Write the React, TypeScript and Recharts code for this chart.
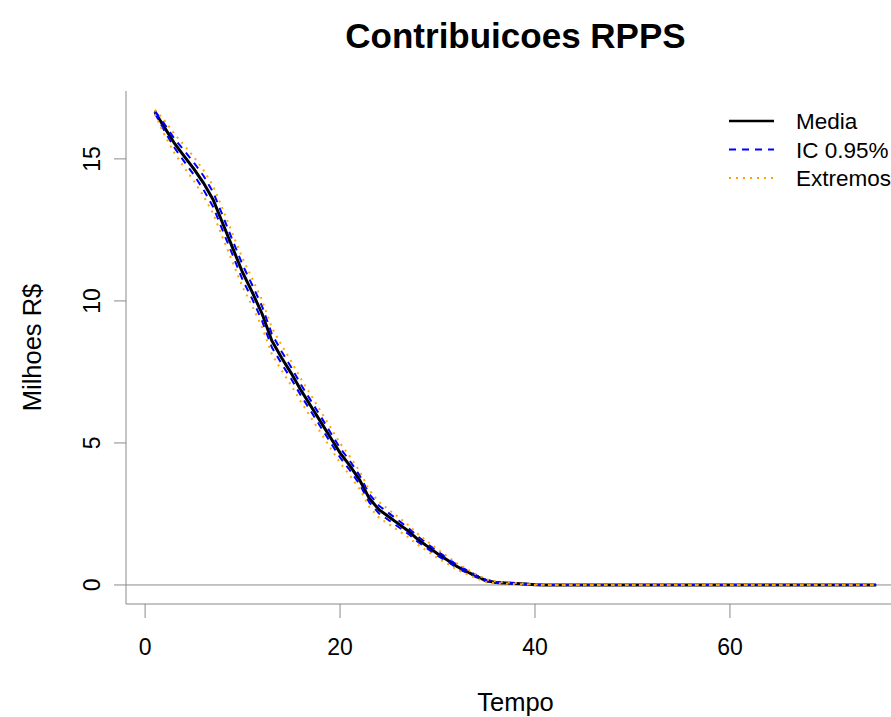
import React from 'react';
import { LineChart, Line, XAxis, YAxis, ReferenceLine } from 'recharts';

// eixo x: anos de projecao
const TEMPO = Array.from({ length: 75 }, (_, i) => i + 1);

const MEDIA = [
  16.65, 16.10, 15.55, 15.10, 14.65, 14.15, 13.55, 12.70, 11.85, 11.00,
  10.30, 9.55, 8.60, 8.00, 7.45, 6.85, 6.30, 5.75, 5.20, 4.65,
  4.20, 3.70, 3.05, 2.65, 2.40, 2.15, 1.90, 1.60, 1.35, 1.10,
  0.88, 0.65, 0.47, 0.30, 0.15, 0.09, 0.07, 0.05, 0.03, 0.01,
  0, 0, 0, 0, 0, 0, 0, 0, 0, 0, 0, 0, 0, 0, 0, 0, 0, 0, 0, 0,
  0, 0, 0, 0, 0, 0, 0, 0, 0, 0, 0, 0, 0, 0, 0,
];

const IC_SUP = [
  16.69, 16.22, 15.71, 15.30, 14.87, 14.40, 13.81, 12.97, 12.11, 11.27,
  10.55, 9.81, 8.84, 8.22, 7.66, 7.05, 6.49, 5.94, 5.38, 4.82,
  4.37, 3.86, 3.20, 2.79, 2.53, 2.27, 2.01, 1.70, 1.44, 1.18,
  0.95, 0.71, 0.52, 0.34, 0.18, 0.11, 0.08, 0.06, 0.04, 0.02,
  0, 0, 0, 0, 0, 0, 0, 0, 0, 0, 0, 0, 0, 0, 0, 0, 0, 0, 0, 0,
  0, 0, 0, 0, 0, 0, 0, 0, 0, 0, 0, 0, 0, 0, 0,
];

const IC_INF = [
  16.61, 15.98, 15.40, 14.91, 14.44, 13.91, 13.30, 12.44, 11.60, 10.74,
  10.06, 9.30, 8.37, 7.79, 7.25, 6.66, 6.12, 5.57, 5.03, 4.49,
  4.04, 3.55, 2.91, 2.52, 2.28, 2.04, 1.80, 1.51, 1.27, 1.03,
  0.82, 0.60, 0.43, 0.27, 0.13, 0.07, 0.06, 0.04, 0.02, 0.00,
  0, 0, 0, 0, 0, 0, 0, 0, 0, 0, 0, 0, 0, 0, 0, 0, 0, 0, 0, 0,
  0, 0, 0, 0, 0, 0, 0, 0, 0, 0, 0, 0, 0, 0, 0,
];

const EXT_SUP = [
  16.73, 16.35, 15.88, 15.48, 15.07, 14.60, 14.03, 13.20, 12.34, 11.50,
  10.78, 10.02, 9.06, 8.44, 7.87, 7.25, 6.69, 6.12, 5.56, 4.99,
  4.53, 4.01, 3.34, 2.92, 2.65, 2.38, 2.11, 1.79, 1.52, 1.25,
  1.01, 0.76, 0.56, 0.37, 0.20, 0.12, 0.09, 0.07, 0.04, 0.02,
  0, 0, 0, 0, 0, 0, 0, 0, 0, 0, 0, 0, 0, 0, 0, 0, 0, 0, 0, 0,
  0, 0, 0, 0, 0, 0, 0, 0, 0, 0, 0, 0, 0, 0, 0,
];

const EXT_INF = [
  16.57, 15.84, 15.21, 14.70, 14.22, 13.69, 13.06, 12.19, 11.35, 10.49,
  9.81, 9.07, 8.13, 7.55, 7.02, 6.44, 5.90, 5.37, 4.83, 4.30,
  3.86, 3.38, 2.75, 2.37, 2.14, 1.91, 1.68, 1.41, 1.18, 0.95,
  0.75, 0.54, 0.38, 0.23, 0.10, 0.06, 0.05, 0.03, 0.02, 0.00,
  0, 0, 0, 0, 0, 0, 0, 0, 0, 0, 0, 0, 0, 0, 0, 0, 0, 0, 0, 0,
  0, 0, 0, 0, 0, 0, 0, 0, 0, 0, 0, 0, 0, 0, 0,
];

const X_TICKS = [0, 20, 40, 60];
const Y_TICKS = [0, 5, 10, 15];

const data = TEMPO.map((t, i) => ({
  t,
  media: MEDIA[i],
  icSup: IC_SUP[i],
  icInf: IC_INF[i],
  extSup: EXT_SUP[i],
  extInf: EXT_INF[i],
}));

const GRAY = '#8a8a8a';
const BLUE = '#0000ff';
const ORANGE = '#ffa500';

const YTick = (props: any) => {
  const { x, y, payload } = props;
  return (
    <text x={x} y={y} transform={`rotate(-90, ${x}, ${y})`} textAnchor="middle" fontSize={23} fill="#000">
      {payload.value}
    </text>
  );
};

const XTick = (props: any) => {
  const { x, y, payload } = props;
  return (
    <text x={x} y={y} dy={16.5} textAnchor="middle" fontSize={23} fill="#000">
      {payload.value}
    </text>
  );
};

const legendRows = [
  { label: 'Media', color: '#000', dash: undefined, width: 2.5 },
  { label: 'IC 0.95%', color: BLUE, dash: '7 6', width: 2 },
  { label: 'Extremos', color: ORANGE, dash: '2 5', width: 2 },
];

export default function App() {
  return (
    <div
      style={{
        position: 'absolute',
        left: 0,
        top: 0,
        width: 891,
        height: 717,
        overflow: 'hidden',
        background: '#fff',
        fontFamily: '"Liberation Sans", Arial, sans-serif',
      }}
    >
      <LineChart width={1000} height={717} data={data} margin={{ top: 91, right: 95, bottom: 0, left: 0 }}>
        <XAxis
          dataKey="t"
          type="number"
          domain={[-1.96, 77.96]}
          ticks={X_TICKS}
          allowDataOverflow
          height={113}
          stroke={GRAY}
          tickSize={14}
          tickMargin={20}
          tick={<XTick />}
        />
        <XAxis
          xAxisId="top"
          orientation="top"
          dataKey="t"
          type="number"
          domain={[-1.96, 77.96]}
          height={0}
          stroke={GRAY}
          tick={false}
          tickLine={false}
        />
        <YAxis
          type="number"
          domain={[-0.67, 17.39]}
          ticks={Y_TICKS}
          allowDataOverflow
          width={126}
          stroke={GRAY}
          tickSize={12}
          tickMargin={14}
          tick={<YTick />}
        />
        <ReferenceLine y={0} stroke={GRAY} strokeWidth={1} />
        <Line dataKey="media" stroke="#000" strokeWidth={3} dot={false} isAnimationActive={false} />
        <Line dataKey="icSup" stroke={BLUE} strokeWidth={2} strokeDasharray="7 6" dot={false} isAnimationActive={false} />
        <Line dataKey="icInf" stroke={BLUE} strokeWidth={2} strokeDasharray="7 6" dot={false} isAnimationActive={false} />
        <Line dataKey="extSup" stroke={ORANGE} strokeWidth={2} strokeDasharray="2 5" dot={false} isAnimationActive={false} />
        <Line dataKey="extInf" stroke={ORANGE} strokeWidth={2} strokeDasharray="2 5" dot={false} isAnimationActive={false} />
      </LineChart>

      <svg width={891} height={717} style={{ position: 'absolute', left: 0, top: 0, pointerEvents: 'none' }}>
        <text x={515.5} y={48} textAnchor="middle" fontSize={35} fontWeight="bold" fill="#000">
          Contribuicoes RPPS
        </text>
        <text x={515.5} y={711} textAnchor="middle" fontSize={25.5} fill="#000">
          Tempo
        </text>
        <text x={41} y={347.5} transform="rotate(-90, 41, 347.5)" textAnchor="middle" fontSize={25.5} fill="#000">
          Milhoes R$
        </text>
        {legendRows.map((r, i) => {
          const y = 121 + i * 28.5;
          return (
            <g key={r.label}>
              <line x1={729} x2={774} y1={y} y2={y} stroke={r.color} strokeWidth={r.width} strokeDasharray={r.dash} />
              <text x={796} y={y + 8} fontSize={22.5} fill="#000">
                {r.label}
              </text>
            </g>
          );
        })}
      </svg>
    </div>
  );
}
